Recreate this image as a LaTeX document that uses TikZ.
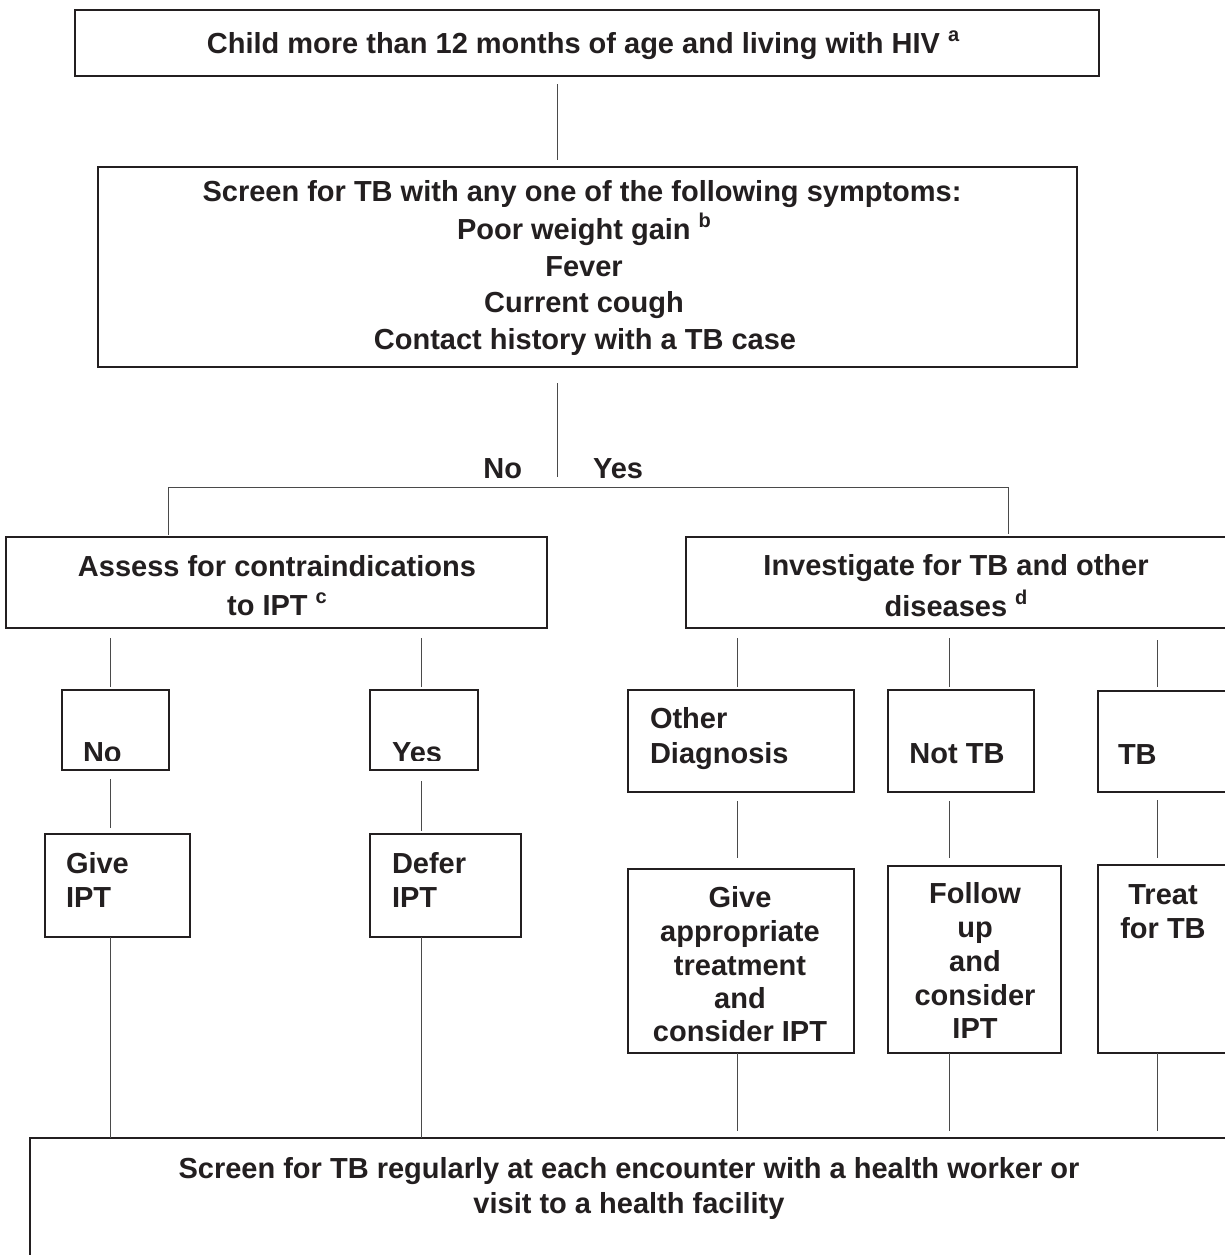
\documentclass[tikz,border=0pt]{standalone}
\usepackage{fontspec}
\setmainfont{Liberation Sans}
\usetikzlibrary{calc}
\definecolor{ink}{HTML}{231F20}
\definecolor{wirecol}{HTML}{4A4A4A}
% raised footnote letter after a label
\newcommand{\supmark}[1]{\raisebox{0.42em}{\fontsize{20}{20}\selectfont #1}}

\begin{document}
\begin{tikzpicture}[x=1pt,y=-1pt,
  box/.style={draw=ink, line width=2.4pt, inner sep=0pt, outer sep=0pt, anchor=north west},
  wire/.style={draw=wirecol, line width=1pt},
  txt/.style={inner sep=0pt, outer sep=0pt, text=ink,
    font=\bfseries\fontsize{29}{35}\selectfont, text height=21pt, text depth=0pt},
]
\clip (0,0) rectangle (1225,1255);
\fill[white] (0,0) rectangle (1225,1255);

% columns used by the vertical connectors
\coordinate (colM) at (557,0);
\coordinate (colA) at (110,0);
\coordinate (colB) at (421,0);
\coordinate (colC) at (737,0);
\coordinate (colD) at (949,0);
\coordinate (colE) at (1157,0);
\coordinate (splitL) at (168,487);
\coordinate (splitR) at (1008,487);

% ---------- boxes ----------
\node[box, minimum width=1024pt, minimum height=66pt]  (top)    at (75,10)    {};
\node[box, minimum width=979pt,  minimum height=200pt] (screen) at (98,167)   {};
\node[box, minimum width=541pt,  minimum height=91pt]  (assess) at (6,537)    {};
\node[box, minimum width=542pt,  minimum height=91pt]  (invest) at (686,537)  {};
\node[box, minimum width=107pt,  minimum height=80pt]  (nobox)  at (62,690)   {};
\node[box, minimum width=108pt,  minimum height=80pt]  (yesbox) at (370,690)  {};
\node[box, minimum width=226pt,  minimum height=102pt] (other)  at (628,690)  {};
\node[box, minimum width=146pt,  minimum height=102pt] (nottb)  at (888,690)  {};
\node[box, minimum width=134pt,  minimum height=101pt] (tb)     at (1098,691) {};
\node[box, minimum width=145pt,  minimum height=103pt] (give)   at (45,834)   {};
\node[box, minimum width=151pt,  minimum height=103pt] (defer)  at (370,834)  {};
\node[box, minimum width=226pt,  minimum height=184pt] (approp) at (628,869)  {};
\node[box, minimum width=173pt,  minimum height=187pt] (follow) at (888,866)  {};
\node[box, minimum width=134pt,  minimum height=188pt] (treat)  at (1098,865) {};
\node[box, minimum width=1202pt, minimum height=140pt] (final)  at (30,1138)  {};

% ---------- texts ----------
\node[txt] (t-top) at (583,43) {Child more than 12 months of age and living with HIV \supmark{a}};

\node[txt] (t-s1) at (582,191) {Screen for TB with any one of the following symptoms:};
\node[txt] (t-s2) at (584,229) {Poor weight gain \supmark{b}};
\node[txt] (t-s3) at (584,266) {Fever};
\node[txt] (t-s4) at (584,302) {Current cough};
\node[txt] (t-s5) at (585,339) {Contact history with a TB case};

\node[txt, anchor=east] (lblno)  at (522,468) {No};
\node[txt, anchor=west] (lblyes) at (593,468) {Yes};

\node[txt] (t-a1) at (277,566) {Assess for contraindications};
\node[txt] (t-a2) at (277,605) {to IPT \supmark{c}};
\node[txt] (t-i1) at (956,565) {Investigate for TB and other};
\node[txt] (t-i2) at (956,606) {diseases \supmark{d}};

\begin{scope}
  \clip (nobox.north west) rectangle ($(nobox.south east)+(0,-10)$);
  \node[txt, anchor=west] (t-no) at (83,752) {No};
\end{scope}
\begin{scope}
  \clip (yesbox.north west) rectangle ($(yesbox.south east)+(0,-10)$);
  \node[txt, anchor=west] (t-yes) at (392,752) {Yes};
\end{scope}

\node[txt, anchor=west] (t-o1) at (650,718) {Other};
\node[txt, anchor=west] (t-o2) at (650,753) {Diagnosis};
\node[txt] (t-n1) at (957,753) {Not TB};
\node[txt, anchor=west] (t-tb) at (1118,754) {TB};

\node[txt, anchor=west] (t-g1) at (66,863) {Give};
\node[txt, anchor=west] (t-g2) at (66,897) {IPT};
\node[txt, anchor=west] (t-d1) at (392,863) {Defer};
\node[txt, anchor=west] (t-d2) at (392,897) {IPT};

\node[txt] (t-p1) at (740,897)  {Give};
\node[txt] (t-p2) at (740,931)  {appropriate};
\node[txt] (t-p3) at (740,965)  {treatment};
\node[txt] (t-p4) at (740,998)  {and};
\node[txt] (t-p5) at (740,1031) {consider IPT};

\node[txt] (t-f1) at (975,893)  {Follow};
\node[txt] (t-f2) at (975,927)  {up};
\node[txt] (t-f3) at (975,961)  {and};
\node[txt] (t-f4) at (975,995)  {consider};
\node[txt] (t-f5) at (975,1028) {IPT};

\node[txt] (t-r1) at (1163,894) {Treat};
\node[txt] (t-r2) at (1163,928) {for TB};

\node[txt] (t-e1) at (629,1168) {Screen for TB regularly at each encounter with a health worker or};
\node[txt] (t-e2) at (629,1203) {visit to a health facility};

% ---------- connectors ----------
\draw[wire] ($(top.south -| colM)+(0,8)$) -- ($(screen.north -| colM)+(0,-7)$);
\draw[wire] ($(screen.south -| colM)+(0,16)$) -- ($(splitL -| colM)+(0,-10)$);
\draw[wire] ($(assess.north -| splitL)+(0,-2)$) -- (splitL) -- (splitR)
            -- ($(invest.north -| splitR)+(0,-3)$);

\draw[wire] ($(assess.south -| colA)+(0,10)$) -- ($(nobox.north -| colA)+(0,-3)$);
\draw[wire] ($(assess.south -| colB)+(0,10)$) -- ($(yesbox.north -| colB)+(0,-3)$);
\draw[wire] ($(invest.south -| colC)+(0,10)$) -- ($(other.north -| colC)+(0,-3)$);
\draw[wire] ($(invest.south -| colD)+(0,10)$) -- ($(nottb.north -| colD)+(0,-3)$);
\draw[wire] ($(invest.south -| colE)+(0,12)$) -- ($(tb.north -| colE)+(0,-4)$);

\draw[wire] ($(nobox.south -| colA)+(0,9)$)  -- ($(give.north -| colA)+(0,-6)$);
\draw[wire] ($(yesbox.south -| colB)+(0,11)$) -- ($(defer.north -| colB)+(0,-3)$);
\draw[wire] ($(other.south -| colC)+(0,9)$)  -- ($(approp.north -| colC)+(0,-11)$);
\draw[wire] ($(nottb.south -| colD)+(0,9)$)  -- ($(follow.north -| colD)+(0,-8)$);
\draw[wire] ($(tb.south -| colE)+(0,8)$)     -- ($(treat.north -| colE)+(0,-7)$);

\draw[wire] (give.south -| colA)  -- (final.north -| colA);
\draw[wire] (defer.south -| colB) -- (final.north -| colB);
\draw[wire] (approp.south -| colC) -- ($(final.north -| colC)+(0,-7)$);
\draw[wire] (follow.south -| colD) -- ($(final.north -| colD)+(0,-7)$);
\draw[wire] (treat.south -| colE)  -- ($(final.north -| colE)+(0,-7)$);
\end{tikzpicture}
\end{document}
